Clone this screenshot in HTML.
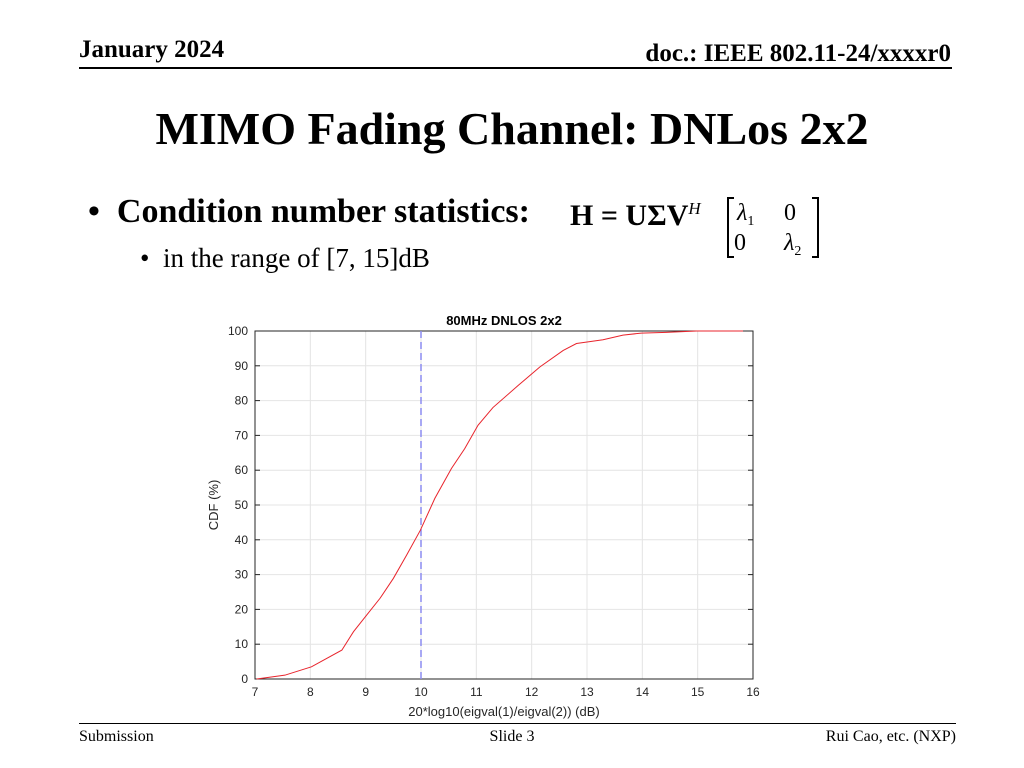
<!DOCTYPE html>
<html><head><meta charset="utf-8"><style>
body{margin:0;background:#fff;width:1024px;height:768px;overflow:hidden;position:relative;font-family:"Liberation Serif",serif}
.a{position:absolute;white-space:nowrap}
</style></head><body>
<div class="a" style="left:79px;top:36px;font-size:25px;font-weight:bold">January 2024</div>
<div class="a" style="right:73px;top:40px;font-size:25px;font-weight:bold">doc.: IEEE 802.11-24/xxxxr0</div>
<div class="a" style="left:79px;top:67px;width:873px;height:2px;background:#000"></div>
<div class="a" style="left:0;width:1024px;text-align:center;top:102px;font-size:46px;font-weight:bold">MIMO Fading Channel: DNLos 2x2</div>
<div class="a" style="left:88px;top:193px;font-size:34px;font-weight:bold">•&nbsp;&nbsp;Condition number statistics:</div>
<div class="a" style="left:140px;top:243px;font-size:27px">•&nbsp;&nbsp;in the range of [7, 15]dB</div>
<div class="a" style="left:570px;top:199px;font-size:30px;font-weight:bold">H = UΣV<sup style="font-size:17px;font-style:italic;font-weight:normal">H</sup></div>
<svg class="a" style="left:722px;top:195px" width="105" height="66">
<path d="M12 3H6V62H12M90 3H96V62H90" fill="none" stroke="#000" stroke-width="2"/>
<text x="15" y="25" font-size="24" font-family="Liberation Serif" font-style="italic">λ<tspan font-size="14" font-style="normal" dy="5">1</tspan></text>
<text x="62" y="25" font-size="24" font-family="Liberation Serif">0</text>
<text x="12" y="55" font-size="24" font-family="Liberation Serif">0</text>
<text x="62" y="55" font-size="24" font-family="Liberation Serif" font-style="italic">λ<tspan font-size="14" font-style="normal" dy="5">2</tspan></text>
</svg>
<svg class="a" id="chart" style="left:0;top:0" width="1024" height="768"></svg>
<div class="a" style="left:79px;top:723px;width:877px;height:1px;background:#000"></div>
<div class="a" style="left:79px;top:728px;font-size:16px">Submission</div>
<div class="a" style="left:0;width:1024px;text-align:center;top:728px;font-size:16px">Slide 3</div>
<div class="a" style="right:68px;top:728px;font-size:16px">Rui Cao, etc. (NXP)</div>
<script>
const xTicks=[7,8,9,10,11,12,13,14,15,16];
const yTicks=[0,10,20,30,40,50,60,70,80,90,100];
const xVals=[7.03,7.54,8.02,8.57,8.78,9.02,9.26,9.5,9.74,9.99,10.25,10.55,10.79,11.03,11.3,11.76,12.15,12.57,12.81,13.29,13.65,13.98,14.43,14.98,15.82];
const cdfVals=[0,1.1,3.5,8.3,13.6,18.4,23.2,28.9,35.6,42.8,51.9,60.5,66.2,72.9,78,84.4,89.7,94.4,96.4,97.5,98.8,99.4,99.6,100,100];
const threshold=[10];
const L=255,R=753,T=331,B=679;
const X=v=>L+(v-7)/9*(R-L), Y=v=>B-v/100*(B-T);
const svg=document.getElementById('chart');const NS='http://www.w3.org/2000/svg';
function mk(t,a,p){const e=document.createElementNS(NS,t);for(const k in a)e.setAttribute(k,a[k]);(p||svg).appendChild(e);return e;}
let e;
e=mk('rect',{x:L,y:T,width:R-L,height:B-T,fill:'#fff'});


xTicks.forEach(t=>{
 e=mk('line',{x1:X(t),x2:X(t),y1:T,y2:B,stroke:'#e4e4e4'});
 
 
 e=mk('text',{x:X(t),y:B+17,'font-size':12,'text-anchor':'middle','font-family':'Liberation Sans',fill:'#262626'});e.textContent=t;
 
 
});
yTicks.forEach(t=>{
 e=mk('line',{x1:L,x2:R,y1:Y(t),y2:Y(t),stroke:'#e4e4e4'});
 
 
 mk('line',{x1:L,x2:L+5,y1:Y(t),y2:Y(t),stroke:'#262626'});
 mk('line',{x1:R,x2:R-5,y1:Y(t),y2:Y(t),stroke:'#262626'});
 e=mk('text',{x:L-7,y:Y(t)+4,'font-size':12,'text-anchor':'end','font-family':'Liberation Sans',fill:'#262626'});e.textContent=t;
 
 
});
e=mk('rect',{x:L,y:T,width:R-L,height:B-T,fill:'none',stroke:'#262626'});


threshold.forEach(t=>{
 e=mk('line',{x1:X(t),x2:X(t),y1:T,y2:B,stroke:'#8c8cf0','stroke-width':1.5,'stroke-dasharray':'7,4'});
 
 
});
e=mk('polyline',{points:xVals.map((x,i)=>X(x)+','+Y(cdfVals[i])).join(' '),fill:'none',stroke:'#e8242c','stroke-width':1});


e=mk('text',{x:504,y:325,'font-size':13,'font-weight':'bold','text-anchor':'middle','font-family':'Liberation Sans'});e.textContent='80MHz DNLOS 2x2';


e=mk('text',{x:504,y:716,'font-size':13,'text-anchor':'middle','font-family':'Liberation Sans',fill:'#262626'});e.textContent='20*log10(eigval(1)/eigval(2)) (dB)';


e=mk('text',{x:0,y:0,'font-size':13,'text-anchor':'middle','font-family':'Liberation Sans',fill:'#262626',transform:'translate(218,505) rotate(-90)'});e.textContent='CDF (%)';


</script>
</body></html>
